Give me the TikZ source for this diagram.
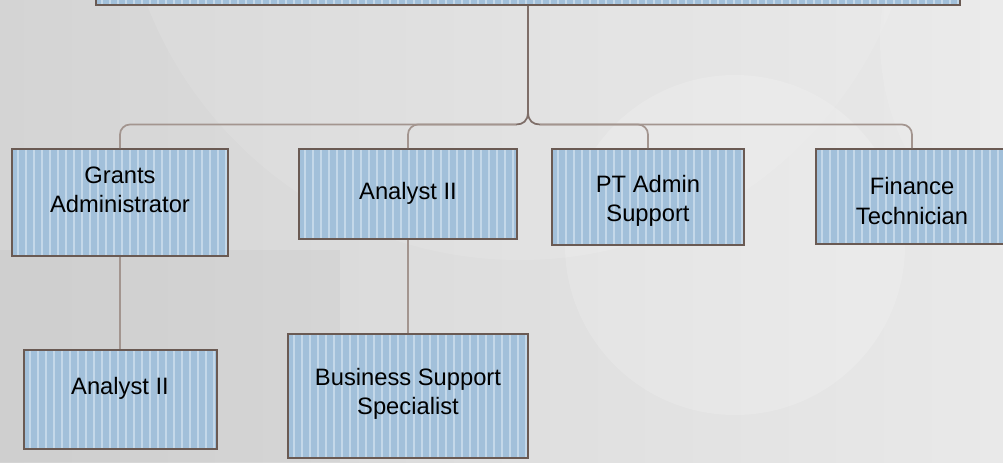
\documentclass[tikz,border=0pt]{standalone}
\usepackage{fontspec}
\setmainfont{Liberation Sans}
\definecolor{bgdark}{HTML}{D4D4D4}
\definecolor{bglight}{HTML}{E9E9E9}
\definecolor{boxfill}{HTML}{A2C0DA}
\definecolor{boxstripe}{HTML}{C4D8E9}
\definecolor{boxline}{HTML}{6A5A53}
\definecolor{trunkline}{HTML}{7E6E68}
\definecolor{branchline}{HTML}{A3958F}
\tikzset{
  orgbox/.style={draw=boxline, line width=1.5pt, fill=boxfill, inner sep=0pt,
    path picture={
      \foreach \k in {0,...,110}{
        \fill[boxstripe]
          ([xshift=\k*6pt+4pt]path picture bounding box.south west) rectangle
          ([xshift=\k*6pt+5.3pt]path picture bounding box.north west);
      }
    }},
  boxtext/.style={align=center, font=\fontsize{17.8pt}{21.8pt}\selectfont, text=black, inner sep=0pt},
  trunk/.style={draw=trunkline, line width=1.3pt},
  branch/.style={draw=branchline, line width=1.3pt, rounded corners=7.5pt},
}
\begin{document}
\begin{tikzpicture}[x=0.75pt, y=-0.75pt]
\useasboundingbox (0,0) rectangle (1003,462);
\clip (0,0) rectangle (1003,462);

% backdrop: grey gradient with soft pale discs
\shade[left color=bgdark, right color=bglight] (0,0) rectangle (1003,462);
\fill[white, opacity=0.10] (520,-140) circle (400);
\fill[white, opacity=0.16] (735,245) circle (170);
\fill[white, opacity=0.12] (1120,40) circle (240);
\fill[black, opacity=0.025] (0,250) rectangle (340,462);

% boxes
\node[orgbox, minimum width=648pt, minimum height=45pt] (top) at (528,-25) {};
\node[orgbox, minimum width=162pt, minimum height=80.25pt] (grants) at (120,202.5) {};
\node[orgbox, minimum width=163.5pt, minimum height=67.5pt] (anmid) at (408,194) {};
\node[orgbox, minimum width=144pt, minimum height=72pt] (ptadmin) at (648,197) {};
\node[orgbox, minimum width=144pt, minimum height=71.25pt] (finance) at (912,196.5) {};
\node[orgbox, minimum width=144.75pt, minimum height=74.25pt] (anlow) at (120,399.5) {};
\node[orgbox, minimum width=180pt, minimum height=93pt] (bss) at (408,396) {};

% labels
\node[boxtext] (tgrants) at (120,190) {Grants\\Administrator};
\node[boxtext] (tanmid) at (408,193) {Analyst II};
\node[boxtext] (tptadmin) at (648,201) {PT Admin\\Support};
\node[boxtext] (tfinance) at (912,201) {Finance\\Technician};
\node[boxtext] (tanlow) at (120,388) {Analyst II};
\node[boxtext] (tbss) at (408,394) {Business Support\\Specialist};

% connectors
\coordinate (knee) at (528,112);
\coordinate (hubL) at (516,124.5);
\coordinate (hubR) at (540,124.5);
\draw[trunk] (top.south) -- (knee) .. controls (528,121) and (523,124.5) .. (hubL);
\draw[trunk] (knee) .. controls (528,121) and (533,124.5) .. (hubR);
\draw[branch] (hubL) -| (grants.north);
\draw[branch] (hubL) -| (anmid.north);
\draw[branch] (hubR) -| (ptadmin.north);
\draw[branch] (hubR) -| (finance.north);
\draw[branch] (grants.south) -- (grants.south |- anlow.north);
\draw[branch] (anmid.south) -- (bss.north);
\end{tikzpicture}
\end{document}
